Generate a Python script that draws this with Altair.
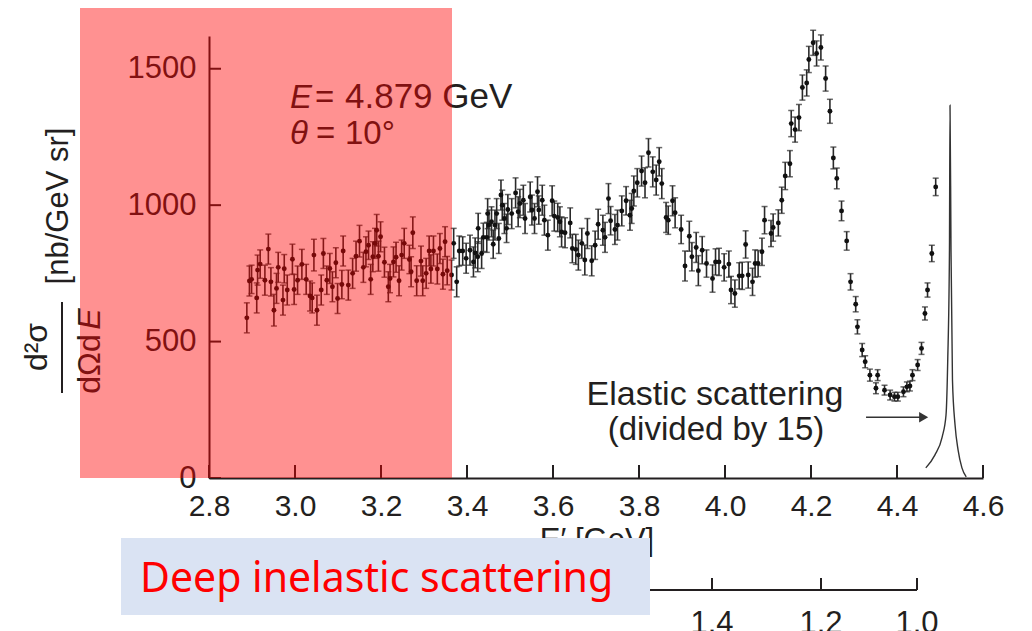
import altair as alt
import pandas as pd

# ---------------- data ----------------
energy = [2.888, 2.894, 2.899, 2.911, 2.913, 2.919, 2.930, 2.938, 2.944, 2.951,
          2.957, 2.961, 2.972, 2.975, 2.982, 2.994, 2.998, 3.006, 3.016, 3.026,
          3.035, 3.040, 3.044, 3.051, 3.061, 3.066, 3.074, 3.081, 3.087, 3.095,
          3.099, 3.109, 3.112, 3.124, 3.134, 3.142, 3.150, 3.159, 3.165, 3.171,
          3.176, 3.181, 3.186, 3.190, 3.194, 3.199, 3.208, 3.217, 3.221, 3.229,
          3.235, 3.242, 3.248, 3.254, 3.266, 3.270, 3.274, 3.283, 3.293, 3.297,
          3.305, 3.312, 3.316, 3.322, 3.331, 3.337, 3.344, 3.349, 3.354, 3.364,
          3.369, 3.376, 3.382, 3.390, 3.398, 3.407, 3.415, 3.419, 3.425, 3.426,
          3.434, 3.438, 3.446, 3.448, 3.451, 3.457, 3.461, 3.465, 3.469, 3.474,
          3.479, 3.482, 3.487, 3.492, 3.495, 3.504, 3.513, 3.519, 3.523, 3.531,
          3.535, 3.547, 3.551, 3.557, 3.564, 3.567, 3.575, 3.580, 3.588, 3.598,
          3.603, 3.611, 3.616, 3.620, 3.628, 3.640, 3.645, 3.653, 3.659, 3.667,
          3.674, 3.680, 3.690, 3.698, 3.705, 3.716, 3.721, 3.729, 3.734, 3.744,
          3.750, 3.760, 3.770, 3.779, 3.783, 3.788, 3.796, 3.806, 3.814, 3.822,
          3.832, 3.840, 3.847, 3.853, 3.863, 3.868, 3.878, 3.884, 3.898, 3.907,
          3.917, 3.923, 3.933, 3.938, 3.947, 3.957, 3.971, 3.978, 3.986, 3.998,
          4.009, 4.014, 4.023, 4.033, 4.040, 4.048, 4.054, 4.064, 4.070, 4.077,
          4.086, 4.092, 4.107, 4.112, 4.124, 4.132, 4.140, 4.151, 4.154, 4.163,
          4.172, 4.180, 4.190, 4.195, 4.205, 4.213, 4.223, 4.234, 4.244, 4.252,
          4.260, 4.271, 4.283, 4.292, 4.304, 4.308, 4.319, 4.326, 4.337, 4.351,
          4.355, 4.371, 4.384, 4.394, 4.402, 4.415, 4.423, 4.430, 4.436, 4.448,
          4.457, 4.465, 4.471, 4.481, 4.490]
xsec = [587, 722, 728, 660, 762, 784, 725, 839, 719, 615,
        695, 772, 652, 767, 689, 802, 691, 725, 783, 728,
        667, 660, 817, 615, 689, 823, 725, 768, 701, 789,
        658, 709, 832, 707, 750, 813, 868, 772, 829, 853,
        728, 811, 860, 908, 813, 884, 791, 701, 731, 792,
        809, 723, 817, 860, 801, 756, 899, 723, 795, 723,
        750, 832, 766, 832, 766, 841, 747, 866, 760, 744,
        860, 719, 832, 832, 805, 835, 792, 825, 811, 915,
        823, 882, 882, 969, 927, 939, 857, 927, 969, 878,
        1037, 1000, 951, 915, 984, 969, 1045, 976, 1006, 1018,
        951, 1030, 982, 951, 1049, 982, 1018, 945, 890, 1016,
        960, 955, 939, 902, 899, 935, 841, 838, 817, 860,
        799, 896, 796, 853, 930, 908, 882, 1024, 943, 911,
        927, 979, 1016, 963, 988, 1052, 1082, 1125, 1082, 1192,
        1122, 1092, 1159, 1079, 955, 945, 1016, 972, 911, 777,
        886, 811, 845, 760, 835, 786, 731, 792, 792, 772,
        784, 689, 676, 741, 741, 856, 744, 719, 786, 786,
        829, 945, 896, 918, 935, 1018, 1107, 1152, 1299, 1277,
        1321, 1431, 1448, 1534, 1595, 1556, 1578, 1464, 1344, 1173,
        1098, 979, 869, 719, 637, 554, 469, 426, 377, 329,
        377, 322, 304, 298, 298, 316, 334, 337, 377, 414,
        475, 603, 689, 823, 1067]
err = [55, 55, 52, 55, 55, 52, 55, 55, 52, 58,
       55, 55, 55, 52, 55, 55, 55, 52, 55, 55,
       55, 55, 58, 55, 55, 55, 52, 55, 55, 55,
       55, 52, 55, 55, 55, 55, 58, 55, 55, 52,
       55, 55, 55, 58, 55, 55, 55, 55, 52, 55,
       55, 55, 55, 55, 52, 55, 58, 55, 55, 55,
       55, 55, 52, 55, 55, 55, 55, 55, 52, 55,
       55, 55, 55, 52, 55, 55, 55, 55, 55, 55,
       55, 52, 55, 55, 55, 55, 52, 55, 55, 55,
       55, 55, 55, 52, 55, 55, 55, 55, 52, 55,
       55, 55, 55, 55, 55, 52, 55, 55, 55, 55,
       55, 52, 55, 55, 55, 55, 52, 55, 55, 55,
       55, 55, 55, 52, 55, 55, 55, 55, 52, 55,
       55, 55, 52, 55, 55, 55, 52, 55, 55, 52,
       55, 55, 52, 55, 55, 52, 55, 55, 52, 55,
       55, 52, 55, 55, 50, 50, 50, 48, 50, 50,
       48, 50, 50, 48, 50, 50, 48, 50, 50, 48,
       50, 50, 48, 50, 48, 48, 50, 48, 48, 46,
       48, 46, 48, 48, 46, 46, 46, 46, 44, 40,
       38, 36, 34, 30, 28, 26, 24, 22, 22, 20,
       20, 18, 18, 16, 16, 18, 18, 18, 20, 20,
       22, 24, 26, 30, 32]

# elastic peak (divided by 15)
peak_e = [4.467, 4.488, 4.505, 4.514, 4.518, 4.522, 4.5233,
          4.5256, 4.529, 4.535, 4.542, 4.551, 4.561]
peak_v = [37, 84, 150, 231, 432, 835, 1366,
          835, 359, 194, 103, 37, 4]

x_ticks = [2.8, 3.0, 3.2, 3.4, 3.6, 3.8, 4.0, 4.2, 4.4, 4.6]
y_ticks = [0, 500, 1000, 1500]

# secondary (W) scale, positions on the E' axis
w_tick_e = [4.4465, 4.2233, 3.9698, 3.6605, 3.3535, 2.9256]
w_label_e = [4.4465, 4.2233, 3.9698]
w_label_text = ["1.0", "1.2", "1.4"]

arrow_e = [4.328, 4.462]
arrow_v = [223, 223]

# ---------------- layout ----------------
W, H = 774, 442
FONT = "Liberation Sans"
INK = "#231f20"

xs = alt.Scale(domain=[2.8, 4.6], nice=False, zero=False)
ys = alt.Scale(domain=[0, 1620], nice=False, zero=True)

df = pd.DataFrame({"E": energy, "v": xsec, "err": err})
df["lo"] = df["v"] - df["err"]
df["hi"] = df["v"] + df["err"]

one = pd.DataFrame({"k": [0]})

xaxis = alt.Axis(values=x_ticks, format=".1f", labelFontSize=30, labelFont=FONT,
                 labelColor=INK, domainColor=INK, domainWidth=2, ticks=False,
                 labelPadding=13, grid=False, title=None, labelFlush=False)
yaxis = alt.Axis(values=y_ticks, format="d", labelFontSize=31, labelFont=FONT,
                 labelColor=INK, domainColor=INK, domainWidth=2, ticks=False,
                 labelPadding=13, grid=False, title=None)

base = alt.Chart(df)

bars = base.mark_rule(color="#2a2a2a", strokeWidth=1.6).encode(
    x=alt.X("E:Q", scale=xs, axis=xaxis),
    y=alt.Y("lo:Q", scale=ys, axis=yaxis),
    y2="hi:Q",
)
cap_lo = base.mark_tick(orient="horizontal", size=6, thickness=1.5, color="#2a2a2a").encode(
    x=alt.X("E:Q", scale=xs), y=alt.Y("lo:Q", scale=ys))
cap_hi = base.mark_tick(orient="horizontal", size=6, thickness=1.5, color="#2a2a2a").encode(
    x=alt.X("E:Q", scale=xs), y=alt.Y("hi:Q", scale=ys))
pts = base.mark_circle(size=24, color="#111111", opacity=1).encode(
    x=alt.X("E:Q", scale=xs), y=alt.Y("v:Q", scale=ys))

peak = alt.Chart(pd.DataFrame({"E": peak_e, "v": peak_v})).mark_line(
    color="#333333", strokeWidth=1.4, interpolate="monotone").encode(
    x=alt.X("E:Q", scale=xs), y=alt.Y("v:Q", scale=ys))

arrow_df = pd.DataFrame({"E": arrow_e, "v": arrow_v})
arrow_line = alt.Chart(arrow_df).mark_line(color="#333333", strokeWidth=1.5).encode(
    x=alt.X("E:Q", scale=xs), y=alt.Y("v:Q", scale=ys))
arrow_head = alt.Chart(pd.DataFrame({"E": [arrow_e[1]], "v": [arrow_v[1]]})).mark_point(
    shape="triangle-right", filled=True, size=110, color="#333333", opacity=1).encode(
    x=alt.X("E:Q", scale=xs), y=alt.Y("v:Q", scale=ys))

xt = alt.Chart(pd.DataFrame({"E": x_ticks})).mark_rule(color=INK, strokeWidth=2).encode(
    x=alt.X("E:Q", scale=xs), y=alt.value(H), y2=alt.value(H - 13))
yt = alt.Chart(pd.DataFrame({"v": y_ticks})).mark_rule(color=INK, strokeWidth=2).encode(
    y=alt.Y("v:Q", scale=ys), x=alt.value(0), x2=alt.value(12))


def txt(text, x, y, size=33, align="left", baseline="alphabetic", angle=0,
        style="normal", color=INK, font=FONT):
    kw = dict(text=text, align=align, baseline=baseline, fontSize=size,
              fontStyle=style, color=color, font=font)
    if angle:
        kw["angle"] = angle
    return alt.Chart(one).mark_text(**kw).encode(x=alt.value(x), y=alt.value(y))


annotations = [
    txt("E", 81, 72, style="italic"),
    txt("=", 106, 72),
    txt("4.879 GeV", 136, 72, size=35),
    txt("θ", 81, 108, style="italic"),
    txt("=", 107, 108),
    txt("10°", 136, 108),
    txt("Elastic scattering", 506, 369, size=34, align="center"),
    txt("(divided by 15)", 507, 404, size=33, align="center"),
    # y-axis title (rotated fraction)
    txt("[nb/GeV sr]", -150, 170, size=31, align="center", baseline="middle", angle=270),
    txt("d²σ", -172, 311, size=32, align="center", baseline="middle", angle=270),
    txt("dΩd", -119, 328, size=32, align="center", baseline="middle", angle=270),
    txt("E", -119, 283, size=32, align="center", baseline="middle", angle=270, style="italic"),
    # x-axis title (mostly hidden under the box)
    txt("E′ [GeV]", 388, 514, size=31, align="center"),
]
frac_bar = alt.Chart(one).mark_rule(color=INK, strokeWidth=2).encode(
    x=alt.value(-147), y=alt.value(266), y2=alt.value(357))

# secondary W axis
w_line = alt.Chart(pd.DataFrame({"E": [w_tick_e[-1], w_tick_e[0]]})).mark_rule(
    color=INK, strokeWidth=2).encode(
    x=alt.X("min(E):Q", scale=xs), x2="max(E):Q", y=alt.value(554))
w_ticks = alt.Chart(pd.DataFrame({"E": w_tick_e})).mark_rule(color=INK, strokeWidth=2).encode(
    x=alt.X("E:Q", scale=xs), y=alt.value(554), y2=alt.value(542))
w_labels = alt.Chart(pd.DataFrame({"E": w_label_e, "t": w_label_text})).mark_text(
    fontSize=31, font=FONT, color=INK, baseline="alphabetic", align="center").encode(
    x=alt.X("E:Q", scale=xs), y=alt.value(597), text="t:N")

# red translucent overlay
overlay = alt.Chart(one).mark_rect(color="#ff0000", opacity=0.43).encode(
    x=alt.value(-129), x2=alt.value(243), y=alt.value(-29), y2=alt.value(H))

# label box
box = alt.Chart(one).mark_rect(color="#dae3f3", opacity=1).encode(
    x=alt.value(-88), x2=alt.value(441), y=alt.value(502), y2=alt.value(579))
box_text = txt("Deep inelastic scattering", -69, 556, size=41, color="#ff0000",
               font="Noto Sans")

chart = alt.layer(
    bars, cap_lo, cap_hi, pts, peak, arrow_line, arrow_head, xt, yt,
    *annotations, frac_bar, w_line, w_ticks, w_labels,
    overlay, box, box_text
).properties(
    width=W, height=H,
    autosize=alt.AutoSizeParams(type="none"),
    padding={"left": 201, "top": 28, "right": 30, "bottom": 153},
    background="white",
).configure_view(stroke=None)

chart.save("out.html", embed_options={"renderer": "svg", "actions": False})
